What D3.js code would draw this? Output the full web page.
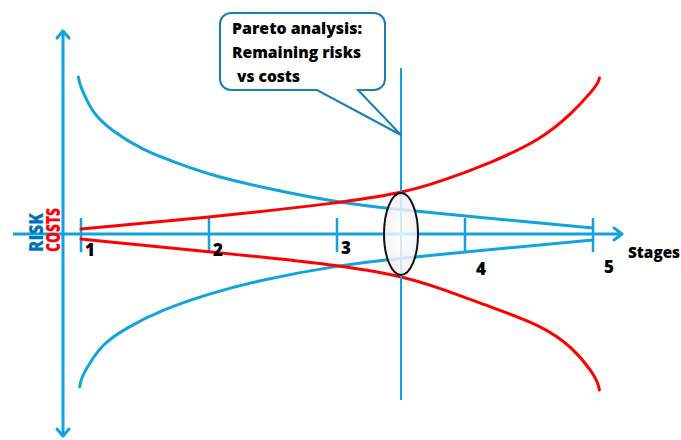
<!DOCTYPE html>
<html><head><meta charset="utf-8">
<script src="https://cdn.jsdelivr.net/npm/d3@7"></script>
<style>html,body{margin:0;padding:0;background:#fff;}svg{display:block;}</style>
</head><body>
<svg id="c" width="681" height="440"></svg>
<script>
// ---- data ----
const stages = [1, 2, 3, 4, 5];
const stageLabels = ["1", "2", "3", "4", "5"];
const paretoStage = 3.5;
// Costs (red): upper branch and lower branch [stage, value]
const costUpper = [[1,3.2],[2.02,10.9],[3.02,19.9],[3.51,26.3],[3.8,33.3],[4.2,45.5],[4.59,60.3],[4.84,77.6],[5.0,92.3],[5.04,97],[5.05,100]];
const costLower = [[1,-3.2],[2.02,-11.5],[3.02,-19.9],[3.51,-27],[3.8,-34.6],[4.2,-46.8],[4.59,-58.3],[4.84,-72.4],[5.0,-89],[5.04,-96],[5.05,-100]];
// Risk (blue): upper and lower branch
const riskUpper = [[0.98,100.6],[0.99,96],[1.02,90.4],[1.09,77.6],[1.23,66.7],[1.48,53.8],[1.75,45.5],[2.01,37.8],[2.4,30.1],[3.02,19.9],[3.51,15.4],[4.0,11.5],[5.0,3.8]];
const riskLower = [[0.99,-98],[1.0,-93],[1.05,-85],[1.17,-70],[1.36,-60],[1.62,-49],[2.01,-38],[2.4,-29.5],[3.02,-19.9],[3.51,-15.4],[4.0,-11.5],[5.0,-3.8]];
const calloutLines = ["Pareto analysis:", "Remaining risks", " vs costs"];
const yLabels = ["RISK", "COSTS"];
const xTitle = "Stages";

// ---- scales ----
const x = d3.scaleLinear().domain([1, 5]).range([81, 593]);
const y = d3.scaleLinear().domain([-100, 100]).range([390, 78]);

const BLUE = "#12a3dd", RED = "#ff0000", DARKBLUE = "#1b7fb3";
const svg = d3.select("#c");
const defs = svg.append("defs");
const grad = defs.append("radialGradient").attr("id","eg").attr("cx","50%").attr("cy","50%").attr("r","60%");
grad.append("stop").attr("offset","0%").attr("stop-color","#ffffff").attr("stop-opacity",0.8);
grad.append("stop").attr("offset","100%").attr("stop-color","#ececf0").attr("stop-opacity",0.85);

// axes
const x0 = 63, y0 = y(0);
svg.append("line").attr("x1",x0).attr("x2",x0).attr("y1",30).attr("y2",437)
  .attr("stroke",BLUE).attr("stroke-width",3);
svg.append("path").attr("d",`M${x0-6},${38} L${x0},${31} L${x0+6},${38}`).attr("fill","none").attr("stroke",BLUE).attr("stroke-width",3).attr("stroke-linecap","round").attr("stroke-linejoin","round");
svg.append("path").attr("d",`M${x0-6},${429} L${x0},${436} L${x0+6},${429}`).attr("fill","none").attr("stroke",BLUE).attr("stroke-width",3).attr("stroke-linecap","round").attr("stroke-linejoin","round");
svg.append("line").attr("x1",13).attr("x2",621).attr("y1",y0).attr("y2",y0)
  .attr("stroke",BLUE).attr("stroke-width",3);
svg.append("path").attr("d",`M614,${y0-6} L622,${y0} L614,${y0+6}`).attr("fill","none").attr("stroke",BLUE).attr("stroke-width",3).attr("stroke-linecap","round").attr("stroke-linejoin","round");

// ticks
svg.selectAll(".tick").data(stages).join("line")
  .attr("x1",d=>x(d)).attr("x2",d=>x(d)).attr("y1",y0-16).attr("y2",y0+18)
  .attr("stroke",BLUE).attr("stroke-width",2.5);

// curves
const lineY = d3.line().x(d=>x(d[0])).y(d=>y(d[1])).curve(d3.curveBasis);
[[riskUpper,BLUE],[riskLower,BLUE],[costUpper,RED],[costLower,RED]].forEach(([d,c])=>{
  svg.append("path").datum(d).attr("d",lineY).attr("fill","none").attr("stroke",c).attr("stroke-width",3).attr("stroke-linecap","round");
});

// pareto vertical line
const xp = x(paretoStage);
svg.append("line").attr("x1",xp).attr("x2",xp).attr("y1",68).attr("y2",400).attr("stroke",BLUE).attr("stroke-width",2);

// ellipse
svg.append("ellipse").attr("cx",xp).attr("cy",y0).attr("rx",17).attr("ry",41)
  .attr("fill","url(#eg)").attr("stroke","#111").attr("stroke-width",2);

// callout
const cb = {l:220,t:13,r:385,b:90,rad:11};
const tip = [xp, 135];
const p = d3.path();
p.moveTo(cb.l+cb.rad, cb.t);
p.lineTo(cb.r-cb.rad, cb.t); p.arcTo(cb.r,cb.t,cb.r,cb.t+cb.rad,cb.rad);
p.lineTo(cb.r, cb.b-cb.rad); p.arcTo(cb.r,cb.b,cb.r-cb.rad,cb.b,cb.rad);
p.lineTo(358, cb.b); p.lineTo(tip[0], tip[1]); p.lineTo(317, cb.b);
p.lineTo(cb.l+cb.rad, cb.b); p.arcTo(cb.l,cb.b,cb.l,cb.b-cb.rad,cb.rad);
p.lineTo(cb.l, cb.t+cb.rad); p.arcTo(cb.l,cb.t,cb.l+cb.rad,cb.t,cb.rad);
p.closePath();
svg.append("path").attr("d",p.toString()).attr("fill","#fff").attr("stroke",DARKBLUE).attr("stroke-width",2);
const cl = [[232,34,130],[232,58,129],[237,82,63]];
calloutLines.forEach((t,i)=>{
  svg.append("text").attr("x",cl[i][0]).attr("y",cl[i][1]).text(t.trim())
    .attr("font-family","'Open Sans', sans-serif").attr("font-weight",800).attr("font-size",16)
    .attr("textLength",cl[i][2]).attr("lengthAdjust","spacingAndGlyphs").attr("fill","#000");
});

// stage labels
const lblPos = [[0,256],[0,256],[0,254],[1,275],[1,273]];
svg.selectAll(".sl").data(stages).join("text")
  .attr("x",(d,i)=>x(d)+ (lblPos[i][0]? 11: 4)).attr("y",(d,i)=>lblPos[i][1])
  .text((d,i)=>stageLabels[i])
  .attr("font-family","'Open Sans', sans-serif").attr("font-weight",800).attr("font-size",17).attr("fill","#000");

svg.append("text").attr("x",628).attr("y",258).text(xTitle)
  .attr("font-family","'Open Sans', sans-serif").attr("font-weight",800).attr("font-size",15)
  .attr("textLength",52).attr("lengthAdjust","spacingAndGlyphs").attr("fill","#000");

// y labels
const yl = [[43,"#0070c0",39],[60,RED,44]];
yLabels.forEach((t,i)=>{
  svg.append("text").attr("transform",`translate(${yl[i][0]},252) rotate(-90)`).text(t)
    .attr("font-family","'Open Sans', sans-serif").attr("font-weight",800).attr("font-size",20)
    .attr("textLength",yl[i][2]).attr("lengthAdjust","spacingAndGlyphs").attr("fill",yl[i][1]);
});
</script>
</body></html>
